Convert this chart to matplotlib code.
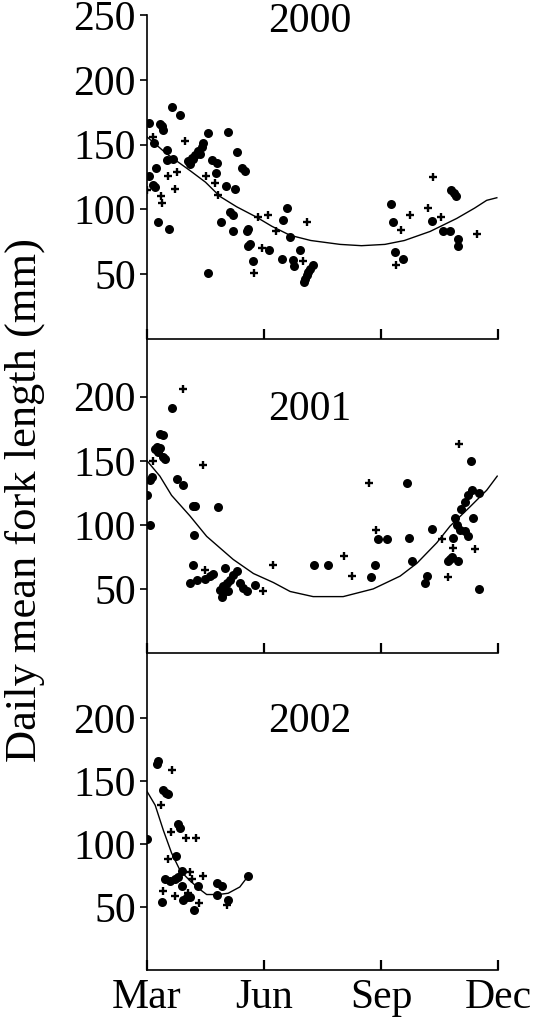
import matplotlib
matplotlib.use("Agg")
import matplotlib.pyplot as plt

plt.rcParams['font.family'] = ['Liberation Serif', 'DejaVu Serif']

# x = months after 1 March, y = daily mean fork length (mm)
years = ["2000", "2001", "2002"]

dots_x_2000 = [0.63, 0.85, 0.06, 0.33, 0.38, 0.42, 0.18, 1.57, 2.08, 1.44, 1.40, 1.32, 1.23,
               1.15, 1.06, 1.10, 1.19, 1.36, 0.50, 0.50, 0.67, 0.23, 0.06, 0.16, 0.20, 0.29,
               0.57, 1.57, 1.66, 1.79, 1.77, 2.30, 2.43, 2.51, 2.03, 2.26, 2.13, 2.21, 1.91,
               2.20, 2.60, 2.56, 3.58, 3.48, 2.64, 2.60, 3.13, 2.71, 3.67, 3.92, 3.45, 3.75,
               3.77, 4.26, 4.18, 4.14, 4.09, 4.05, 4.03, 6.26, 6.32, 6.36, 6.57, 7.30, 7.79,
               7.86, 7.92, 7.60, 7.77, 7.97, 7.97]
dots_y_2000 = [179, 173, 167, 166, 164, 161, 151, 159, 160, 151, 148, 145, 142,
               140, 137, 135, 139, 143, 146, 138, 139, 132, 126, 119, 117, 90,
               85, 51, 138, 136, 128, 144, 132, 130, 118, 116, 98, 96, 90,
               83, 85, 83, 101, 92, 73, 72, 69, 60, 79, 69, 62, 61,
               56, 57, 54, 52, 49, 46, 44, 104, 90, 67, 62, 91, 115,
               113, 110, 83, 83, 77, 72]
plus_x_2000 = [0.16, 0.97, 0.55, 0.76, 0.00, 0.72, 0.35, 0.38, 1.51, 1.74, 1.83, 2.85, 3.09,
               4.09, 2.94, 3.31, 3.99, 2.74, 6.51, 6.74, 6.38, 7.33, 7.21, 7.53, 8.45]
plus_y_2000 = [156, 153, 126, 129, 115, 116, 110, 105, 126, 120, 111, 94, 96,
               90, 70, 83, 60, 51, 84, 96, 57, 125, 101, 94, 81]
curve_x_2000 = [0.0, 0.5, 1.1, 1.5, 1.87, 2.3, 2.81, 3.2, 3.67, 4.2, 4.95, 5.5, 6.1,
                6.6, 7.26, 7.94, 8.4, 8.71, 8.97]
curve_y_2000 = [156, 143, 130, 121, 110, 102, 94, 87, 80, 76, 73, 72, 73,
                76, 83, 93, 101, 107, 109]

dots_x_2001 = [0.63, 0.33, 0.42, 0.25, 0.21, 0.33, 0.29, 0.42, 0.46, 0.12, 0.08, 0.78, 0.93,
               0.01, 1.19, 1.23, 1.83, 0.08, 1.21, 1.19, 2.00, 1.10, 1.27, 1.49, 1.62, 1.70,
               2.30, 2.21, 2.13, 2.04, 1.96, 1.87, 1.92, 2.38, 2.47, 2.56, 2.08, 1.96, 2.77,
               8.31, 6.66, 8.33, 8.50, 8.24, 8.15, 8.04, 8.37, 7.90, 7.94, 8.03, 8.15, 8.24,
               7.85, 7.30, 7.81, 7.77, 7.98, 7.72, 8.52, 7.17, 7.13, 5.93, 6.15, 6.72, 6.79,
               4.28, 4.65, 5.85, 5.74]
dots_y_2001 = [191, 171, 170, 161, 159, 160, 157, 153, 151, 137, 135, 136, 131,
               123, 115, 115, 114, 100, 92, 69, 66, 55, 57, 58, 60, 62,
               64, 61, 57, 55, 52, 49, 44, 55, 51, 48, 48, 47, 53,
               150, 133, 127, 125, 123, 118, 112, 105, 105, 100, 96, 95, 91,
               90, 97, 75, 73, 72, 72, 50, 60, 55, 89, 89, 90, 72,
               69, 69, 69, 59]
plus_x_2001 = [0.92, 0.16, 1.44, 1.49, 3.24, 2.98, 8.01, 5.70, 7.85, 8.41, 7.56, 7.72, 5.87,
               5.06, 5.25]
plus_y_2001 = [206, 150, 147, 65, 69, 48, 163, 133, 82, 81, 89, 59, 96,
               76, 60]
curve_x_2001 = [0.0, 0.33, 0.63, 1.10, 1.53, 2.21, 2.73, 3.24, 3.67, 4.26, 5.03, 5.80, 6.49,
                6.92, 7.43, 7.77, 8.28, 8.71, 8.98]
curve_y_2001 = [150, 138, 123, 107, 91, 73, 62, 55, 48, 44, 44, 50, 60,
                70, 86, 99, 114, 127, 138]

dots_x_2002 = [0.29, 0.25, 0.42, 0.49, 0.55, 0.80, 0.85, 0.01, 0.74, 0.89, 0.46, 0.59, 0.72,
               0.80, 1.79, 1.92, 0.89, 1.32, 1.02, 0.93, 1.10, 1.80, 2.08, 0.38, 1.21, 2.60]
dots_y_2002 = [166, 164, 143, 141, 140, 116, 113, 104, 91, 79, 72, 71, 72,
               74, 69, 67, 67, 67, 58, 56, 58, 60, 56, 54, 48, 75]
plus_x_2002 = [0.63, 0.35, 0.61, 1.00, 1.26, 0.55, 1.10, 1.43, 1.15, 0.40, 1.06, 0.72, 2.06,
               1.34]
plus_y_2002 = [159, 131, 110, 105, 105, 88, 78, 75, 72, 63, 61, 59, 52,
               53]
curve_x_2002 = [0.0, 0.21, 0.42, 0.63, 0.85, 1.10, 1.36, 1.53, 1.83, 2.08, 2.38, 2.60]
curve_y_2002 = [142, 131, 111, 93, 79, 71, 64, 60, 60, 61, 66, 75]

month_ticks = [0, 3, 6, 9]
month_labels = ["Mar", "Jun", "Sep", "Dec"]

panels = [
    (dots_x_2000, dots_y_2000, plus_x_2000, plus_y_2000, curve_x_2000, curve_y_2000),
    (dots_x_2001, dots_y_2001, plus_x_2001, plus_y_2001, curve_x_2001, curve_y_2001),
    (dots_x_2002, dots_y_2002, plus_x_2002, plus_y_2002, curve_x_2002, curve_y_2002),
]

W, H = 538, 1023
fig = plt.figure(figsize=(W / 100, H / 100), dpi=100)

# pixel extents of the three panels (top, bottom) and their y-limits
left, right = 147, 498
rows = [(15, 339, 250), (339, 653, 245), (653, 970, 252)]
yticks = [[50, 100, 150, 200, 250], [50, 100, 150, 200], [50, 100, 150, 200]]
title_y = [245, 190, 197]

fs = 30
for i, (dx, dy, px, py, cx, cy) in enumerate(panels):
    top, bot, ymax = rows[i]
    ax = fig.add_axes([left / W, (H - bot) / H, (right - left) / W, (bot - top) / H])
    ax.plot(cx, cy, color='black', lw=1.0, zorder=2)
    ax.plot(dx, dy, 'o', color='black', ms=6.5, mew=0, zorder=3)
    ax.plot(px, py, '+', color='black', ms=6, mew=1.7, zorder=3)
    ax.set_xlim(0, 9)
    ax.set_ylim(0, ymax)
    for s in ['top', 'right']:
        ax.spines[s].set_visible(False)
    for s in ['left', 'bottom']:
        ax.spines[s].set_linewidth(1.2)
    ax.set_yticks(yticks[i])
    ax.tick_params(axis='y', direction='out', length=5, width=1.2, labelsize=fs, pad=3)
    ax.set_xticks(month_ticks)
    ax.tick_params(axis='x', direction='in', length=7, width=1.6, labelsize=fs, pad=6)
    if i == 2:
        ax.set_xticklabels(month_labels)
    else:
        ax.set_xticklabels([])
    ax.text(4.18, title_y[i], years[i], ha='center', va='center', fontsize=fs)
    ax.patch.set_alpha(0)

fig.text(25 / W, (H - 500) / H, "Daily mean fork length (mm)", rotation=90,
         ha='center', va='center', fontsize=32)

fig.savefig("out.png", dpi=100)
